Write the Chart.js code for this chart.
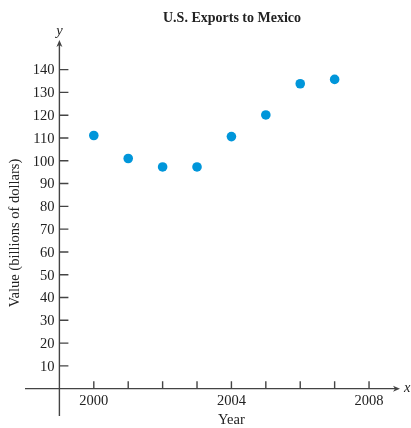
<!DOCTYPE html>
<html>
<head>
<meta charset="utf-8">
<script src="https://cdn.jsdelivr.net/npm/chart.js@4.4.1/dist/chart.umd.min.js"></script>
<style>
  html, body { margin:0; padding:0; background:#fff; }
  #wrap { width:411px; height:428px; position:relative; }
</style>
</head>
<body>
<div id="wrap"><canvas id="c"></canvas></div>
<script>
// data
const years = [2000, 2001, 2002, 2003, 2004, 2005, 2006, 2007];
const exportsBn = [111.1, 101.0, 97.3, 97.3, 110.6, 120.1, 133.8, 135.7];
const yTicks = [10, 20, 30, 40, 50, 60, 70, 80, 90, 100, 110, 120, 130, 140];
const xTicks = [2000, 2001, 2002, 2003, 2004, 2005, 2006, 2007, 2008];
const xLabels = [2000, 2004, 2008];

const INK = '#222';
const LINE = '#444';
const SERIF = '"Liberation Serif", "DejaVu Serif", serif';

// axes through the origin, drawn by hand on top of the hidden scales
const axesPlugin = {
  id: 'axes',
  afterDraw(chart) {
    const ctx = chart.ctx, xs = chart.scales.x, ys = chart.scales.y, a = chart.chartArea;
    const x0 = xs.getPixelForValue(1999), y0 = ys.getPixelForValue(0);
    ctx.save();
    ctx.strokeStyle = LINE; ctx.fillStyle = LINE; ctx.lineWidth = 1.4;
    // axis lines
    ctx.beginPath();
    ctx.moveTo(x0, a.bottom); ctx.lineTo(x0, a.top + 4);
    ctx.moveTo(a.left, y0); ctx.lineTo(a.right - 4, y0);
    ctx.stroke();
    // arrow heads
    ctx.beginPath();
    ctx.moveTo(x0, a.top); ctx.lineTo(x0 - 3, a.top + 7); ctx.lineTo(x0, a.top + 5); ctx.lineTo(x0 + 3, a.top + 7); ctx.closePath();
    ctx.moveTo(a.right, y0); ctx.lineTo(a.right - 7, y0 - 3); ctx.lineTo(a.right - 5, y0); ctx.lineTo(a.right - 7, y0 + 3); ctx.closePath();
    ctx.fill();
    // tick marks
    ctx.beginPath();
    yTicks.forEach(v => { const p = ys.getPixelForValue(v); ctx.moveTo(x0, p); ctx.lineTo(x0 + 9, p); });
    xTicks.forEach(v => { const p = xs.getPixelForValue(v); ctx.moveTo(p, y0); ctx.lineTo(p, y0 - 7.5); });
    ctx.stroke();
    // tick labels
    ctx.fillStyle = INK;
    ctx.font = '14.5px ' + SERIF;
    ctx.textAlign = 'right'; ctx.textBaseline = 'middle';
    yTicks.forEach(v => ctx.fillText(String(v), x0 - 5, ys.getPixelForValue(v) + 1));
    ctx.textAlign = 'center';
    xLabels.forEach(v => ctx.fillText(String(v), xs.getPixelForValue(v), y0 + 13));
    // axis names
    ctx.fillText('Year', xs.getPixelForValue(2004), y0 + 32);
    ctx.save();
    ctx.translate(15, 233); ctx.rotate(-Math.PI / 2);
    ctx.fillText('Value (billions of dollars)', 0, 0);
    ctx.restore();
    ctx.font = 'italic 14.5px ' + SERIF;
    ctx.fillText('y', x0, a.top - 9);
    ctx.textAlign = 'left';
    ctx.fillText('x', a.right + 4, y0);
    // title
    ctx.font = 'bold 14px ' + SERIF;
    ctx.textAlign = 'center';
    ctx.fillText('U.S. Exports to Mexico', 232, 18);
    ctx.restore();
  }
};

new Chart(document.getElementById('c').getContext('2d'), {
  type: 'scatter',
  data: {
    datasets: [{
      data: years.map((y, i) => ({ x: y, y: exportsBn[i] })),
      backgroundColor: '#0096da',
      borderWidth: 0,
      pointRadius: 4.8,
      pointHoverRadius: 4.8
    }]
  },
  options: {
    responsive: true,
    maintainAspectRatio: false,
    animation: false,
    layout: { padding: { left: 25, right: 11, top: 40, bottom: 12 } },
    plugins: { legend: { display: false }, tooltip: { enabled: false }, title: { display: false } },
    scales: {
      x: { type: 'linear', display: false, min: 1998, max: 2008.9 },
      y: { type: 'linear', display: false, min: -12, max: 153 }
    }
  },
  plugins: [axesPlugin]
});
</script>
</body>
</html>
